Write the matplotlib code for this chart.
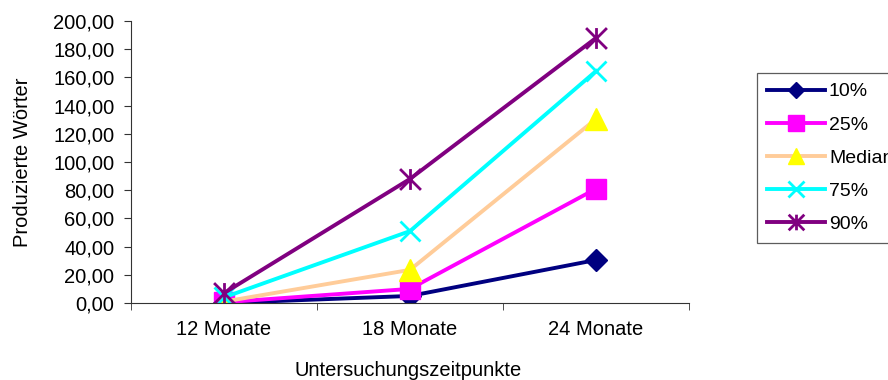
import matplotlib.pyplot as plt
from matplotlib.path import Path
from matplotlib.ticker import FuncFormatter

plt.rcParams['font.family'] = ['Liberation Sans', 'DejaVu Sans']

zeitpunkte = ['12 Monate', '18 Monate', '24 Monate']
p10 = [0.0, 5.0, 30.5]
p25 = [0.5, 10.0, 81.0]
median = [1.0, 23.5, 130.5]
p75 = [4.0, 51.0, 164.5]
p90 = [7.0, 88.0, 188.0]

FS = 14.5

# Excel-style star: an x with a vertical bar through it
star = Path([(-1, -1), (1, 1), (-1, 1), (1, -1), (0, -1), (0, 1)],
            [Path.MOVETO, Path.LINETO, Path.MOVETO, Path.LINETO,
             Path.MOVETO, Path.LINETO])

fig = plt.figure(figsize=(8.88, 3.8), dpi=100)
ax = fig.add_axes([131 / 888, 1 - 303 / 380, 558 / 888, 282 / 380])

x = range(len(zeitpunkte))
lw = 2.8
ax.plot(x, p10, color='#000080', lw=lw, marker='D', ms=11,
        mfc='#000080', mec='#000080', label='10%')
ax.plot(x, p25, color='#FF00FF', lw=lw, marker='s', ms=15,
        mfc='#FF00FF', mec='#FF00FF', label='25%')
ax.plot(x, median, color='#FFCC99', lw=lw, marker='^', ms=16,
        mfc='#FFFF00', mec='#FFFF00', label='Median')
ax.plot(x, p75, color='#00FFFF', lw=lw, marker='x', ms=15, mew=2,
        mec='#00FFFF', label='75%')
ax.plot(x, p90, color='#800080', lw=lw, marker=star, ms=15, mew=2,
        mec='#800080', label='90%')

ax.set_xlim(-0.5, 2.5)
ax.set_ylim(0, 200)
ax.set_yticks(range(0, 201, 20))
ax.yaxis.set_major_formatter(FuncFormatter(lambda v, p: f'{v:.2f}'.replace('.', ',')))
ax.set_xticks([0, 1, 2])
ax.set_xticklabels(zeitpunkte)
ax.set_xticks([-0.5, 0.5, 1.5, 2.5], minor=True)
ax.tick_params(axis='x', which='major', length=0, pad=12, labelsize=FS)
ax.tick_params(axis='x', which='minor', length=5, direction='out', color='#333333')
ax.tick_params(axis='y', length=5, direction='out', labelsize=FS, pad=7,
               color='#333333')
for s in ('top', 'right'):
    ax.spines[s].set_visible(False)
for s in ('left', 'bottom'):
    ax.spines[s].set_color('#333333')

fig.text(22 / 888, 1 - 162 / 380, 'Produzierte Wörter', fontsize=FS,
         rotation=90, ha='center', va='center')
fig.text(408 / 888, 1 - 376 / 380, 'Untersuchungszeitpunkte', fontsize=FS,
         ha='center', va='baseline')

leg = fig.legend(loc='upper left', bbox_to_anchor=(757 / 888, 1 - 73 / 380),
                 frameon=True, fancybox=False, fontsize=FS - 0.5,
                 handlelength=3.0, handletextpad=0.2, labelspacing=0.8,
                 borderpad=0.5, borderaxespad=0, markerscale=0.75)
leg.get_frame().set_edgecolor('#333333')
leg.get_frame().set_linewidth(0.9)

fig.savefig('out.png', dpi=100)
